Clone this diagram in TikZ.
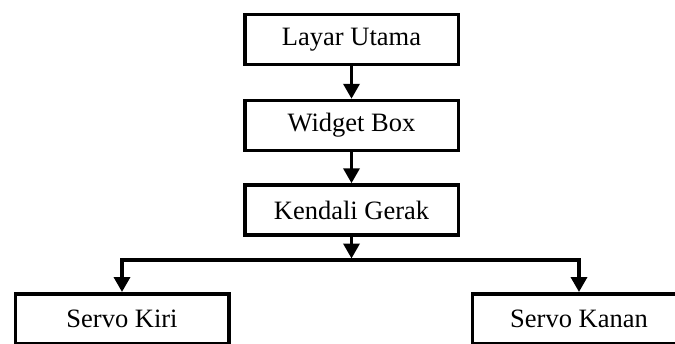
\documentclass[tikz,border=0pt]{standalone}
\usepackage{fontspec}
\setmainfont{Liberation Serif}
\usetikzlibrary{arrows.meta}
\begin{document}
\begin{tikzpicture}[x=1pt,y=-1pt,
  box/.style={draw=black, line width=3.5pt, fill=white, minimum width=213.5pt, minimum height=50pt, inner sep=0pt, font=\fontsize{26.5}{30}\selectfont},
  arr/.style={line width=3.5pt, -{Triangle[length=15pt,width=16pt]}},
  ln/.style={line width=3.5pt}]
\clip (0,0) rectangle (675,343);
\fill[white] (0,0) rectangle (675,343);
\node[box] (lu) at (351.5,39.5) {Layar Utama};
\node[box] (wb) at (351.5,125.5) {Widget Box};
\node[box] (kg) at (351.5,210) {Kendali Gerak};
\node[box] (sk) at (122,318.75) {Servo Kiri};
\node[box] (sn) at (579,318.75) {Servo Kanan};
\coordinate (br) at (351.5,260);
\coordinate (bt) at (351.5,258.5);
\draw[arr] (lu.south) -- (wb.north);
\draw[arr] (wb.south) -- (kg.north);
\draw[arr] (kg.south) -- (bt);
\draw[arr] (br) -| (sk.north);
\draw[arr] (br) -| (sn.north);
\end{tikzpicture}
\end{document}
